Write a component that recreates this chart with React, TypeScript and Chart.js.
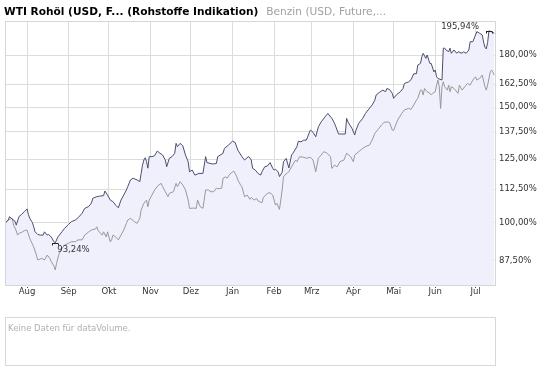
import { useEffect, useRef } from 'react';
import { Chart, registerables } from 'chart.js';

Chart.register(...registerables);

const titleMain = 'WTI Rohöl (USD, F... (Rohstoffe Indikation)';
const titleSecond = 'Benzin (USD, Future,...';
const volumeText = 'Keine Daten für dataVolume.';

// x = days relative to 1 Aug
const monthTicks = [0, 31, 61, 92, 122, 153, 184, 212, 243, 273, 304, 334];
const monthLabels = ['Aug', 'Sep', 'Okt', 'Nov', 'Dez', 'Jan', 'Feb', 'Mrz', 'Apr', 'Mai', 'Jun', 'Jul'];
const yTicks = [87.5, 100, 112.5, 125, 137.5, 150, 162.5, 180];

const wtiDays = [-16, -14, -13, -11, -9, -8, -6, -4, -2, 0, 1, 2, 4, 5, 6, 8, 10, 12, 13, 15, 16, 18, 20, 21, 23, 26, 28, 31, 33, 36, 38, 41, 43, 46, 48, 49, 52, 54, 57, 58, 60, 62, 64, 66, 68, 70, 72, 74, 75, 77, 79, 82, 84, 85, 86, 87, 88, 89, 90, 91, 93, 95, 97, 99, 101, 103, 104, 106, 108, 110, 111, 112, 114, 116, 118, 120, 121, 123, 125, 128, 131, 133, 134, 138, 141, 142, 146, 147, 150, 153, 155, 157, 160, 162, 165, 167, 168, 170, 172, 174, 175, 177, 179, 181, 183, 184, 185, 187, 188, 190, 191, 193, 195, 197, 198, 201, 202, 204, 206, 208, 210, 211, 213, 215, 217, 219, 222, 224, 227, 229, 230, 232, 234, 237, 238, 239, 242, 244, 245, 247, 250, 252, 254, 257, 259, 260, 263, 265, 267, 268, 270, 272, 273, 275, 278, 280, 281, 284, 286, 288, 290, 291, 293, 294, 295, 297, 298, 300, 301, 303, 304, 305, 306, 309, 310, 311, 312, 314, 315, 316, 318, 320, 321, 324, 325, 327, 329, 330, 332, 334, 335, 337, 339, 340, 341, 342, 343, 344, 345, 346, 348];
const wtiValues = [100, 101.0, 102.2, 101.3, 100.6, 99.2, 102.2, 103.0, 104.0, 105.0, 103.0, 101.6, 100.1, 98.6, 96.9, 96.0, 95.8, 95.8, 96.9, 95.8, 96.0, 95.2, 93.6, 93.24, 95.2, 96.9, 98.1, 99.5, 100.4, 101.0, 101.8, 103.4, 105.2, 105.9, 107.2, 109.0, 109.6, 109.8, 110.0, 111.8, 110.2, 108.3, 107.7, 106.4, 105.4, 108.3, 110.2, 112.2, 113.5, 116.2, 116.9, 116.2, 115.5, 118.9, 122.4, 124.6, 125.6, 123.9, 121.1, 126.1, 126.1, 126.5, 128.6, 127.6, 126.8, 124.6, 121.7, 125.4, 126.1, 127.6, 132.1, 130.6, 132.1, 131.0, 126.8, 123.9, 119.6, 120.3, 118.2, 118.9, 118.9, 126.1, 123.5, 122.9, 123.1, 126.1, 127.6, 129.8, 131.3, 133.1, 132.5, 129.0, 126.1, 124.6, 126.2, 124.6, 121.0, 120.3, 118.9, 118.2, 119.6, 121.7, 122.0, 123.5, 121.0, 120.3, 120.6, 119.6, 117.6, 119.4, 123.9, 125.3, 121.2, 126.8, 127.6, 130.6, 133.1, 132.8, 133.6, 133.6, 136.8, 138.4, 137.3, 135.2, 140.0, 142.4, 145.0, 146.7, 144.2, 141.7, 140.0, 136.5, 136.5, 136.5, 144.2, 142.4, 139.2, 136.0, 138.4, 141.7, 144.2, 146.7, 148.5, 151.1, 153.7, 156.5, 158.3, 159.2, 158.3, 160.1, 159.5, 157.4, 154.7, 156.5, 158.3, 160.1, 162.9, 163.8, 165.1, 168.6, 168.6, 173.8, 174.8, 178.9, 181.1, 177.9, 180.0, 174.8, 174.8, 169.7, 170.8, 166.8, 165.8, 164.9, 184.4, 184.4, 183.2, 182.1, 184.4, 181.1, 183.2, 181.1, 182.1, 181.1, 182.1, 181.1, 183.2, 188.6, 188.6, 193.1, 195.4, 194.3, 193.1, 188.4, 185.0, 183.9, 188.0, 195.94, 195.6, 195.2, 194.3];

const benzinDays = [-16, -14, -13, -11, -10, -8, -7, -6, -4, -2, 0, 2, 5, 7, 8, 11, 13, 15, 17, 18, 20, 21, 22, 24, 26, 28, 31, 33, 36, 38, 41, 43, 46, 48, 51, 52, 53, 56, 57, 59, 60, 62, 63, 64, 66, 68, 70, 72, 74, 75, 77, 80, 82, 84, 85, 87, 89, 90, 91, 93, 95, 98, 100, 101, 103, 105, 106, 109, 111, 112, 114, 116, 118, 120, 121, 124, 126, 127, 129, 131, 133, 135, 137, 139, 141, 142, 145, 146, 148, 149, 151, 154, 156, 157, 159, 160, 162, 164, 166, 167, 169, 171, 172, 175, 176, 179, 181, 183, 185, 186, 188, 190, 191, 192, 194, 195, 197, 200, 201, 203, 206, 208, 211, 213, 215, 217, 219, 221, 223, 226, 227, 229, 231, 233, 236, 238, 241, 243, 244, 247, 250, 252, 255, 257, 259, 261, 264, 266, 269, 270, 272, 273, 274, 276, 279, 281, 284, 286, 288, 290, 291, 293, 294, 295, 296, 298, 300, 301, 302, 304, 305, 306, 307, 308, 309, 310, 311, 313, 314, 315, 316, 318, 321, 322, 324, 326, 328, 330, 332, 334, 335, 337, 339, 341, 342, 343, 345, 346, 348];
const benzinValues = [100, 101.0, 101.2, 101.6, 99.2, 97.2, 95.8, 96.4, 96.7, 97.3, 97.5, 94.7, 91.9, 89.3, 87.8, 88.3, 87.8, 89.3, 88.3, 87.3, 86.0, 84.8, 86.8, 89.9, 91.4, 92.5, 93.1, 93.6, 93.6, 94.2, 94.2, 95.8, 96.9, 97.5, 97.9, 98.6, 97.3, 95.8, 96.9, 95.2, 96.9, 93.5, 94.2, 95.8, 95.2, 94.2, 95.8, 97.5, 99.8, 101.0, 101.6, 100.4, 99.8, 101.6, 104.6, 107.1, 108.3, 105.8, 108.3, 110.2, 112.2, 114.2, 114.8, 113.5, 111.5, 109.6, 110.9, 111.5, 114.8, 113.5, 115.5, 114.2, 112.2, 108.3, 105.2, 105.3, 105.2, 108.3, 105.8, 105.2, 112.2, 112.2, 111.5, 111.5, 112.9, 112.7, 112.9, 116.9, 117.5, 116.9, 118.6, 119.9, 117.8, 116.2, 114.2, 113.5, 109.6, 110.2, 108.6, 109.3, 108.3, 108.9, 108.0, 107.3, 109.3, 110.9, 111.1, 110.2, 106.4, 107.1, 104.8, 112.2, 117.5, 118.2, 119.2, 119.6, 121.7, 124.6, 123.9, 126.1, 125.8, 125.4, 125.8, 124.6, 119.6, 125.4, 126.8, 128.3, 127.8, 126.1, 121.0, 122.4, 121.7, 123.9, 124.6, 127.6, 126.1, 123.9, 126.8, 128.3, 129.8, 130.6, 131.3, 133.6, 136.8, 138.4, 140.9, 142.2, 142.4, 142.1, 138.4, 138.2, 140.0, 143.3, 146.7, 148.5, 149.3, 148.8, 151.1, 153.7, 154.7, 159.2, 159.2, 156.5, 160.1, 158.3, 157.4, 156.5, 157.4, 158.3, 162.0, 164.9, 161.1, 149.3, 161.1, 163.9, 161.1, 159.2, 162.0, 158.3, 161.1, 160.1, 157.4, 162.0, 159.2, 161.1, 163.0, 162.0, 164.9, 166.8, 164.9, 165.8, 167.8, 161.1, 159.2, 162.0, 169.8, 170.8, 167.8];

const FONT = '"DejaVu Sans", Verdana, sans-serif';
const fmtPct = (v: number) => v.toFixed(2).replace('.', ',') + '%';

const overlayPlugin = {
  id: 'overlay',
  afterDraw(chart: any) {
    const { ctx, chartArea: a, scales } = chart;
    const xs = scales.x;
    const ys = scales.y;
    ctx.save();
    // plot border
    ctx.strokeStyle = '#d6d6d6';
    ctx.lineWidth = 1;
    ctx.strokeRect(Math.round(a.left) + 0.5, Math.round(a.top) + 0.5, Math.round(a.right - a.left), Math.round(a.bottom - a.top));

    // title
    ctx.textBaseline = 'alphabetic';
    ctx.textAlign = 'left';
    ctx.font = `bold 10.6px ${FONT}`;
    ctx.fillStyle = '#000000';
    ctx.fillText(titleMain, 4, 15);
    const w = ctx.measureText(titleMain).width;
    ctx.font = `10.6px ${FONT}`;
    ctx.fillStyle = '#a0a0a0';
    ctx.fillText(titleSecond, 4 + w + 8, 15);

    // min / max markers
    const maxV = Math.max(...wtiValues);
    const minV = Math.min(...wtiValues);
    const maxI = wtiValues.indexOf(maxV);
    const minI = wtiValues.indexOf(minV);
    const drawMarker = (px: number, py: number) => {
      const y = Math.round(py) + 0.5;
      ctx.strokeStyle = '#222222';
      ctx.beginPath();
      ctx.moveTo(px - 3, y);
      ctx.lineTo(px + 3, y);
      ctx.moveTo(Math.round(px - 3) + 0.5, y);
      ctx.lineTo(Math.round(px - 3) + 0.5, y + 2);
      ctx.moveTo(Math.round(px + 3) + 0.5, y);
      ctx.lineTo(Math.round(px + 3) + 0.5, y + 2);
      ctx.stroke();
    };
    ctx.font = `8.5px ${FONT}`;
    ctx.fillStyle = '#333333';
    const mxX = xs.getPixelForValue(wtiDays[maxI]);
    const mxY = ys.getPixelForValue(maxV);
    drawMarker(mxX, mxY);
    ctx.textAlign = 'right';
    ctx.fillText(fmtPct(maxV), mxX - 10, mxY - 1.5);
    const mnX = xs.getPixelForValue(wtiDays[minI]);
    const mnY = ys.getPixelForValue(minV);
    drawMarker(mnX, mnY);
    ctx.textAlign = 'left';
    ctx.fillText(fmtPct(minV), mnX + 2, mnY + 9.5);

    // volume panel
    ctx.strokeStyle = '#d8d8d8';
    ctx.strokeRect(5.5, 317.5, 490, 48);
    ctx.font = `8.5px ${FONT}`;
    ctx.fillStyle = '#b0b0b0';
    ctx.textAlign = 'left';
    ctx.fillText(volumeText, 8, 331);
    ctx.restore();
  },
};

export default function App() {
  const ref = useRef<HTMLCanvasElement | null>(null);
  useEffect(() => {
    if (!ref.current) return;
    const chart = new Chart(ref.current, {
      type: 'line',
      data: {
        datasets: [
          {
            label: 'WTI',
            data: wtiDays.map((d, i) => ({ x: d, y: wtiValues[i] })),
            borderColor: '#4a4e70',
            backgroundColor: 'rgb(240,240,252)',
            borderWidth: 1,
            pointRadius: 0,
            tension: 0,
            fill: 'start',
          },
          {
            label: 'Benzin',
            data: benzinDays.map((d, i) => ({ x: d, y: benzinValues[i] })),
            borderColor: '#999999',
            borderWidth: 1,
            pointRadius: 0,
            tension: 0,
            fill: false,
          },
        ],
      },
      options: {
        responsive: false,
        animation: false,
        events: [],
        layout: { padding: { left: 5, top: 21, right: 0, bottom: 0 } },
        plugins: {
          legend: { display: false },
          tooltip: { enabled: false },
          title: { display: false },
          filler: { drawTime: 'beforeDatasetsDraw' },
        } as any,
        scales: {
          x: {
            type: 'linear',
            min: -16.4,
            max: 348.5,
            afterBuildTicks: (s: any) => {
              s.ticks = monthTicks.map((v) => ({ value: v }));
            },
            afterFit: (s: any) => {
              s.height = 85;
            },
            grid: { color: '#dcdcdc', tickColor: '#444444', tickLength: 4, tickBorderDash: [1, 1] },
            border: { display: false },
            ticks: {
              autoSkip: false,
              maxRotation: 0,
              padding: -2,
              color: '#333333',
              font: { family: FONT, size: 8.5 },
              callback: (v: any) => monthLabels[monthTicks.indexOf(Number(v))] ?? '',
            },
          },
          y: {
            type: 'logarithmic',
            position: 'right',
            min: 80.43,
            max: 202.8,
            afterBuildTicks: (s: any) => {
              s.ticks = yTicks.map((v) => ({ value: v }));
            },
            afterFit: (s: any) => {
              s.width = 50;
            },
            grid: { color: '#dcdcdc', drawTicks: false },
            border: { display: false },
            ticks: {
              autoSkip: false,
              padding: 4,
              color: '#333333',
              font: { family: FONT, size: 8.5 },
              callback: (v: any) => fmtPct(Number(v)),
            },
          },
        },
      } as any,
      plugins: [overlayPlugin],
    });
    return () => chart.destroy();
  }, []);
  return (
    <div style={{ position: 'absolute', left: 0, top: 0, width: 545, height: 370, background: '#fff' }}>
      <canvas ref={ref} width={545} height={370} style={{ display: 'block' }} />
    </div>
  );
}
